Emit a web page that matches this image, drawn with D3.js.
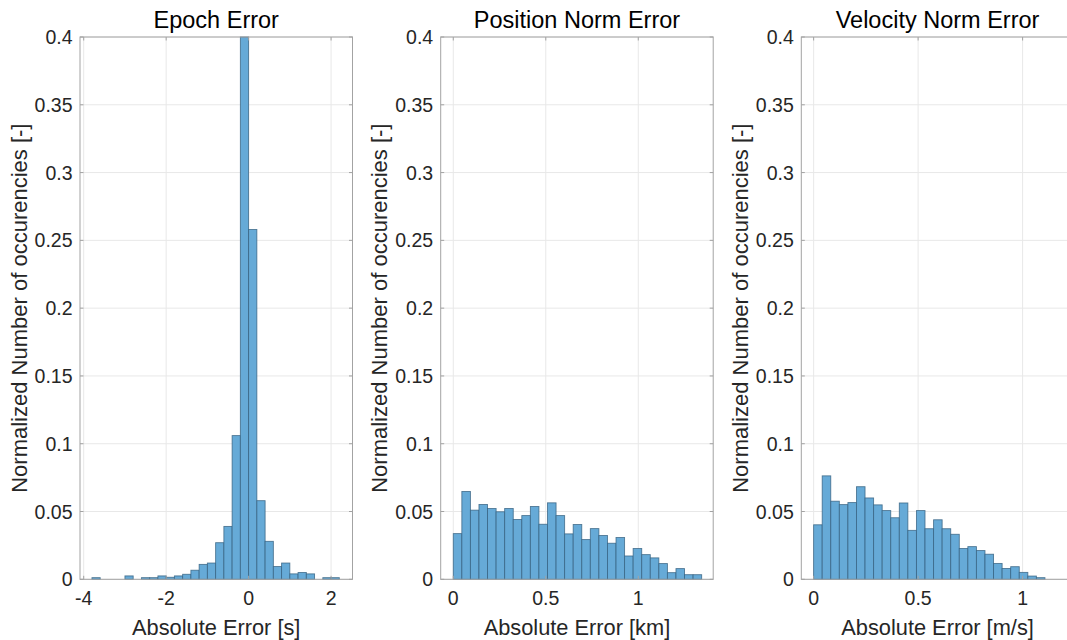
<!DOCTYPE html>
<html>
<head>
<meta charset="utf-8">
<script src="https://cdn.jsdelivr.net/npm/d3@7"></script>
<style>
  html, body { margin: 0; padding: 0; background: #fff; }
  svg { display: block; font-family: "Liberation Sans", Arial, Helvetica, sans-serif; }
</style>
</head>
<body>
<svg id="chart" width="1067" height="640"></svg>
<script>
// Normalized histograms of the estimation errors.
const panelTitles = ["Epoch Error", "Position Norm Error", "Velocity Norm Error"];
const xLabels = ["Absolute Error [s]", "Absolute Error [km]", "Absolute Error [m/s]"];
const yLabel = "Normalized Number of occurencies [-]";

// Epoch error bins: first edge and bin width [s]
const epochStart = -3.8;
const epochWidth = 0.2;
const epochValues = [
  0.0012, 0, 0, 0, 0.0025, 0, 0.0012, 0.0012, 0.0025, 0.0015,
  0.0025, 0.0037, 0.0067, 0.011, 0.012, 0.027, 0.039, 0.106, 0.40, 0.258,
  0.058, 0.028, 0.0094, 0.012, 0.004, 0.005, 0.004, 0, 0.0012, 0.0012
];

// Position norm error bins [km]
const posStart = 0;
const posWidth = 0.0463;
const posValues = [
  0.0337, 0.0648, 0.051, 0.0552, 0.0522, 0.0498, 0.0522, 0.0441, 0.047, 0.0537,
  0.0406, 0.0564, 0.047, 0.0335, 0.0404, 0.0293, 0.0374, 0.0323, 0.0266, 0.0308,
  0.0172, 0.0227, 0.0182, 0.0158, 0.0116, 0.0049, 0.0079, 0.0034, 0.0034
];

// Velocity norm error bins [m/s]
const velStart = 0;
const velWidth = 0.041;
const velValues = [
  0.0402, 0.0763, 0.0576, 0.0551, 0.0566, 0.0683, 0.060, 0.0549, 0.0507, 0.0454,
  0.0563, 0.0361, 0.0507, 0.0373, 0.0439, 0.0373, 0.0332, 0.0227, 0.0241, 0.0212,
  0.0185, 0.0117, 0.008, 0.0093, 0.0051, 0.0024, 0.0012
];

// Axis limits and ticks
const xDomains = [[-4.09, 2.52], [-0.068, 1.405], [-0.059, 1.245]];
const xTicks = [[-4, -2, 0, 2], [0, 0.5, 1], [0, 0.5, 1]];
const yTicks = [0, 0.05, 0.1, 0.15, 0.2, 0.25, 0.3, 0.35, 0.4];

const series = [
  { start: epochStart, width: epochWidth, values: epochValues },
  { start: posStart, width: posWidth, values: posValues },
  { start: velStart, width: velWidth, values: velValues }
];

const svg = d3.select("#chart");
const panelLeft = [80, 440.7, 801.3];
const panelW = 272.5;
const plotTop = 37, plotBottom = 579.3;

const y = d3.scaleLinear().domain([0, 0.4]).range([plotBottom, plotTop]);
const fmt = v => String(+v.toFixed(2));

series.forEach((s, i) => {
  const x0 = panelLeft[i];
  const x = d3.scaleLinear().domain(xDomains[i]).range([x0, x0 + panelW]);
  const g = svg.append("g");

  // grid
  g.selectAll(".gx").data(xTicks[i]).join("line")
    .attr("x1", d => x(d)).attr("x2", d => x(d))
    .attr("y1", plotTop).attr("y2", plotBottom)
    .attr("stroke", "#e8e8e8").attr("stroke-width", 1);
  g.selectAll(".gy").data(yTicks).join("line")
    .attr("x1", x0).attr("x2", x0 + panelW)
    .attr("y1", d => y(d)).attr("y2", d => y(d))
    .attr("stroke", "#e8e8e8").attr("stroke-width", 1);

  // bars
  const bins = s.values.map((v, k) => ({ a: s.start + k * s.width, b: s.start + (k + 1) * s.width, v }))
    .filter(d => d.v > 0);
  g.selectAll(".bar").data(bins).join("rect")
    .attr("x", d => x(d.a))
    .attr("width", d => x(d.b) - x(d.a))
    .attr("y", d => y(Math.min(d.v, 0.4)))
    .attr("height", d => plotBottom - y(Math.min(d.v, 0.4)))
    .attr("fill", "#66aad7")
    .attr("stroke", "#35607f")
    .attr("stroke-opacity", 0.8)
    .attr("stroke-width", 0.9);

  // box
  const boxColor = "#a3a3a3";
  g.append("rect")
    .attr("x", x0).attr("y", plotTop).attr("width", panelW).attr("height", plotBottom - plotTop)
    .attr("fill", "none").attr("stroke", boxColor).attr("stroke-width", 1);

  // tick marks (inside, mirrored)
  const tl = 3.5;
  yTicks.forEach(t => {
    g.append("line").attr("x1", x0).attr("x2", x0 + tl).attr("y1", y(t)).attr("y2", y(t)).attr("stroke", boxColor);
    g.append("line").attr("x1", x0 + panelW).attr("x2", x0 + panelW - tl).attr("y1", y(t)).attr("y2", y(t)).attr("stroke", boxColor);
  });
  xTicks[i].forEach(t => {
    g.append("line").attr("x1", x(t)).attr("x2", x(t)).attr("y1", plotBottom).attr("y2", plotBottom - tl).attr("stroke", boxColor);
    g.append("line").attr("x1", x(t)).attr("x2", x(t)).attr("y1", plotTop).attr("y2", plotTop + tl).attr("stroke", boxColor);
  });

  // tick labels
  g.selectAll(".yl").data(yTicks).join("text")
    .attr("x", x0 - 7.5).attr("y", d => y(d)).attr("dy", "0.36em")
    .attr("text-anchor", "end").attr("font-size", 19.5).attr("fill", "#262626")
    .text(fmt);
  g.selectAll(".xl").data(xTicks[i]).join("text")
    .attr("x", d => x(d)).attr("y", 605)
    .attr("text-anchor", "middle").attr("font-size", 19.5).attr("fill", "#262626")
    .text(fmt);

  // labels and title
  g.append("text")
    .attr("transform", `translate(${x0 - 53.5},${(plotTop + plotBottom) / 2}) rotate(-90)`)
    .attr("text-anchor", "middle").attr("font-size", 22).attr("fill", "#262626")
    .text(yLabel);
  g.append("text")
    .attr("x", x0 + panelW / 2).attr("y", 634.5)
    .attr("text-anchor", "middle").attr("font-size", 21.8).attr("fill", "#262626")
    .text(xLabels[i]);
  g.append("text")
    .attr("x", x0 + panelW / 2).attr("y", 28.3)
    .attr("text-anchor", "middle").attr("font-size", 23.5).attr("fill", "#000")
    .text(panelTitles[i]);
});
</script>
</body>
</html>
